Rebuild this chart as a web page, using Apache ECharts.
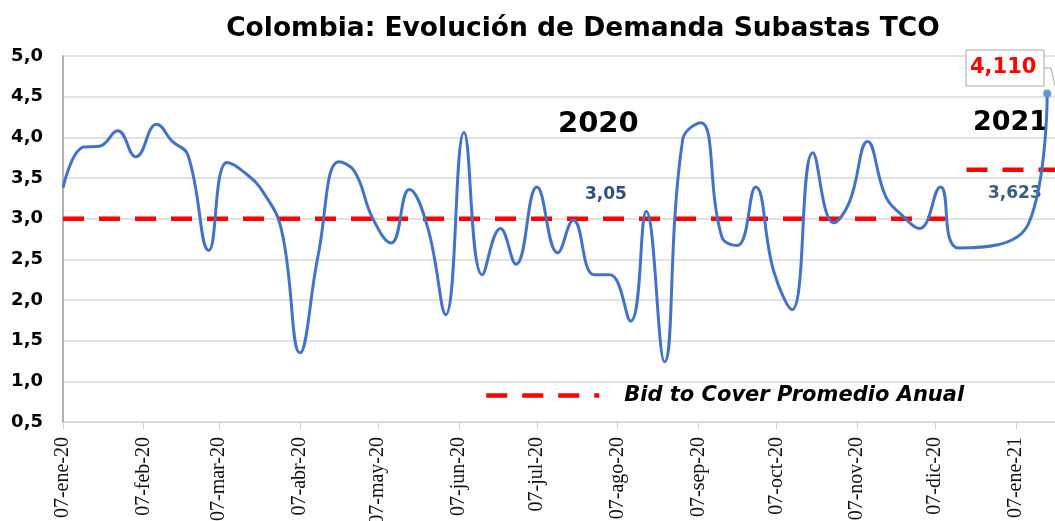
<!DOCTYPE html>
<html>
<head>
<meta charset="utf-8">
<script src="https://cdn.jsdelivr.net/npm/echarts@6/dist/echarts.min.js"></script>
<style>
  html, body { margin: 0; padding: 0; background: #fff; }
  #chart { width: 1055px; height: 521px; }
</style>
</head>
<body>
<div id="chart"></div>
<script>
// fechas de subasta (semanales) y bid to cover
const fechas = [
  '2020-01-07','2020-01-15','2020-01-21','2020-01-28','2020-02-04','2020-02-12','2020-02-18','2020-02-24',
  '2020-03-03','2020-03-10','2020-03-17','2020-03-24','2020-03-31','2020-04-07','2020-04-14','2020-04-22',
  '2020-04-28','2020-05-05','2020-05-12','2020-05-19','2020-05-26','2020-06-02','2020-06-09','2020-06-16',
  '2020-06-23','2020-06-29','2020-07-07','2020-07-15','2020-07-21','2020-07-29','2020-08-04','2020-08-12',
  '2020-08-18','2020-08-25','2020-09-01','2020-09-08','2020-09-16','2020-09-22','2020-09-29','2020-10-06',
  '2020-10-13','2020-10-21','2020-10-29','2020-11-04','2020-11-11','2020-11-18','2020-11-24','2020-12-01',
  '2020-12-09','2020-12-16','2021-01-12','2021-01-19'
];
const bidToCover = [
  3.38, 3.88, 3.89, 4.08, 3.76, 4.16, 3.95, 3.78,
  2.61, 3.69, 3.56, 3.32, 2.85, 1.35, 2.55, 3.70,
  3.58, 3.00, 2.70, 3.36, 2.90, 1.82, 4.06, 2.31,
  2.88, 2.44, 3.39, 2.58, 2.98, 2.31, 2.31, 1.74,
  3.09, 1.24, 3.97, 4.18, 2.78, 2.67, 3.39, 2.35,
  1.88, 3.81, 2.95, 3.20, 3.95, 3.27, 3.05, 2.88,
  3.39, 2.64, 2.95, 4.54
];
// promedio anual (tramos de la línea roja)
const promedio2020 = [['2020-01-07', 3.0], ['2020-12-11', 3.0]];
const promedio2021 = [['2020-12-19', 3.6], ['2021-01-22', 3.6]];
const etiquetaPromedio2020 = '3,05';
const etiquetaPromedio2021 = '3,623';
const etiquetaUltimo = '4,110';
const meses = ['ene','feb','mar','abr','may','jun','jul','ago','sep','oct','nov','dic'];

// eje diario
const inicio = Date.UTC(2020, 0, 7);
const dias = [];
for (let i = 0; i < 382; i++) {
  dias.push(new Date(inicio + i * 86400000).toISOString().slice(0, 10));
}
function esDia7(idx, val) { return val.slice(8, 10) === '07'; }
function fmtFecha(val) {
  const p = val.split('-');
  return p[2] + '-' + meses[+p[1] - 1] + '-' + p[0].slice(2);
}

const serieBid = fechas.map((f, i) => {
  if (i === fechas.length - 1) {
    return { value: [f, bidToCover[i]], symbol: 'circle', symbolSize: 8 };
  }
  return [f, bidToCover[i]];
});

const chart = echarts.init(document.getElementById('chart'));
const nombreProm = 'Bid to Cover Promedio Anual';
const lineaRoja = { color: '#ff0000', width: 4.5, type: [21, 15], cap: 'butt' };

chart.setOption({
  animation: false,
  title: {
    text: 'Colombia: Evolución de Demanda Subastas TCO',
    left: 578, top: 11, textAlign: 'center',
    textStyle: { fontFamily: 'DejaVu Sans', fontWeight: 'bold', fontSize: 26.5, color: '#000' }
  },
  grid: { left: 63, right: 0, top: 56, bottom: 99, outerBoundsMode: 'none' },
  legend: {
    data: [nombreProm],
    left: 479, top: 380,
    itemWidth: 113, itemHeight: 14,
    itemStyle: { color: 'rgba(0,0,0,0)', borderWidth: 0 },
    lineStyle: { color: '#ff0000', width: 4.5, type: [21, 15], cap: 'butt' },
    textStyle: { fontFamily: 'DejaVu Sans', fontWeight: 'bold', fontStyle: 'italic', fontSize: 21, color: '#000', padding: [0, 0, 0, 20] }
  },
  xAxis: {
    type: 'category', data: dias, boundaryGap: false,
    axisLine: { lineStyle: { color: '#d0d0d0', width: 1 } },
    axisTick: { show: true, interval: esDia7, length: 7, lineStyle: { color: '#d0d0d0' } },
    axisLabel: {
      interval: esDia7, rotate: 90, margin: 15,
      formatter: fmtFecha,
      fontFamily: 'Liberation Sans Narrow', fontSize: 20, color: '#111'
    },
    splitLine: { show: false }
  },
  yAxis: {
    type: 'value', min: 0.5, max: 5, interval: 0.5,
    axisLine: { show: true, lineStyle: { color: '#b0b0b0', width: 2 } },
    axisTick: { show: false },
    axisLabel: {
      margin: 20,
      formatter: v => v.toFixed(1).replace('.', ','),
      fontFamily: 'DejaVu Sans', fontWeight: 'bold', fontSize: 18, color: '#000'
    },
    splitLine: { lineStyle: { color: '#d9d9d9', width: 1.5 } }
  },
  series: [
    {
      name: 'Bid to Cover', type: 'line', data: serieBid,
      smooth: 0.45, symbol: 'none', showAllSymbol: true,
      lineStyle: { color: '#4472c4', width: 3 },
      itemStyle: { color: '#5b9bd5' },
      z: 3
    },
    {
      name: nombreProm, type: 'line', data: promedio2020,
      symbol: 'none', lineStyle: lineaRoja, itemStyle: { color: '#ff0000' }, z: 2
    },
    {
      name: nombreProm, type: 'line', data: promedio2021,
      symbol: 'none', lineStyle: lineaRoja, itemStyle: { color: '#ff0000' }, z: 2
    }
  ],
  graphic: [
    { type: 'text', left: 558, top: 110, style: { text: '2020', font: 'bold 29px "DejaVu Sans"', fill: '#000' } },
    { type: 'text', left: 973, top: 109, style: { text: '2021', font: 'bold 27px "DejaVu Sans"', fill: '#000' } },
    { type: 'text', left: 585, top: 186, style: { text: etiquetaPromedio2020, font: 'bold 17px "DejaVu Sans"', fill: '#2f4f7f' } },
    { type: 'text', left: 988, top: 185, style: { text: etiquetaPromedio2021, font: 'bold 17px "DejaVu Sans"', fill: '#3b5e80' } },
    { type: 'rect', shape: { x: 966, y: 50, width: 78, height: 36 }, style: { fill: '#fff', stroke: '#a6a6a6', lineWidth: 1 }, z: 10 },
    { type: 'text', left: 970, top: 57, z: 11, style: { text: etiquetaUltimo, font: 'bold 21px "DejaVu Sans"', fill: '#ff0000' } },
    { type: 'polyline', shape: { points: [[1044, 68], [1051, 68], [1055, 86]] }, style: { stroke: '#a6a6a6', lineWidth: 1, fill: null }, z: 10 }
  ]
});
</script>
</body>
</html>
